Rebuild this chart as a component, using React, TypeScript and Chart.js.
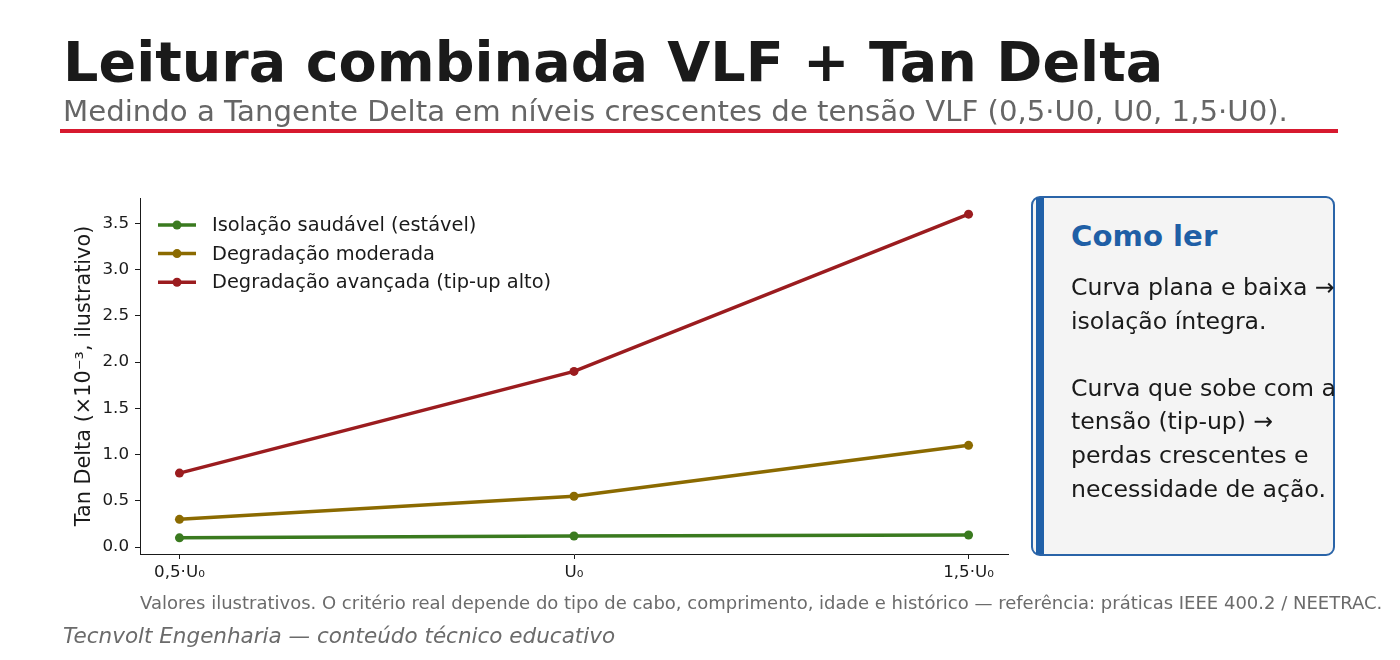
import React, { useEffect, useRef } from "react";
import { Chart, registerables } from "chart.js";

Chart.register(...registerables);

const categories = ["0,5·U₀", "U₀", "1,5·U₀"];
const seriesNames = [
  "Isolação saudável (estável)",
  "Degradação moderada",
  "Degradação avançada (tip-up alto)",
];
const healthy = [0.1, 0.12, 0.13];
const moderate = [0.3, 0.55, 1.1];
const advanced = [0.8, 1.9, 3.6];
const yTicks = [0, 0.5, 1, 1.5, 2, 2.5, 3, 3.5];
const colors = ["#3a7a1f", "#8b6a00", "#9b1c1f"];

const FONT = "'DejaVu Sans', sans-serif";

const overlayPlugin = {
  id: "overlay",
  afterDatasetsDraw(chart: any) {
    const ctx = chart.ctx;
    const area = chart.chartArea;
    ctx.save();
    ctx.fillStyle = "#1a1a1a";
    ctx.font = `20.8px ${FONT}`;
    ctx.textAlign = "center";
    ctx.textBaseline = "middle";
    ctx.translate(85, (area.top + area.bottom) / 2);
    ctx.rotate(-Math.PI / 2);
    ctx.fillText("Tan Delta (×10⁻³, ilustrativo)", 0, 0);
    ctx.restore();

    ctx.save();
    chart.data.datasets.forEach((ds: any, i: number) => {
      const y = 225 + i * 28.6;
      ctx.strokeStyle = ds.borderColor;
      ctx.lineWidth = 3.5;
      ctx.beginPath();
      ctx.moveTo(158, y);
      ctx.lineTo(196, y);
      ctx.stroke();
      ctx.fillStyle = ds.borderColor;
      ctx.beginPath();
      ctx.arc(177, y, 4.5, 0, Math.PI * 2);
      ctx.fill();
      ctx.fillStyle = "#1a1a1a";
      ctx.font = `19.4px ${FONT}`;
      ctx.textAlign = "left";
      ctx.textBaseline = "middle";
      ctx.fillText(ds.label, 212, y + 1);
    });
    ctx.restore();
  },
};

export default function App() {
  const ref = useRef<HTMLCanvasElement | null>(null);

  useEffect(() => {
    if (!ref.current) return;
    const mk = (vals: number[]) => vals.map((v, i) => ({ x: i, y: v }));
    const chart = new Chart(ref.current, {
      type: "line",
      data: {
        datasets: [healthy, moderate, advanced].map((vals, i) => ({
          label: seriesNames[i],
          data: mk(vals),
          borderColor: colors[i],
          backgroundColor: colors[i],
          borderWidth: 3.5,
          pointRadius: 4.5,
          pointBorderWidth: 0,
          pointBackgroundColor: colors[i],
          tension: 0,
        })),
      },
      options: {
        animation: false,
        responsive: false,
        maintainAspectRatio: false,
        layout: { padding: { left: 0, top: 198, right: 1400 - 1008, bottom: 0 } },
        plugins: { legend: { display: false }, tooltip: { enabled: false } },
        scales: {
          x: {
            type: "linear",
            min: -0.1,
            max: 2.1,
            afterBuildTicks: (s: any) => {
              s.ticks = categories.map((_, i) => ({ value: i }));
            },
            afterFit: (s: any) => {
              s.height = 660 - 554;
            },
            ticks: {
              callback: (v: any) => categories[v as number] ?? "",
              color: "#1a1a1a",
              font: { family: FONT, size: 16.7 },
              padding: 4,
              maxRotation: 0,
              autoSkip: false,
            },
            grid: { drawOnChartArea: false, drawTicks: true, tickLength: 5, tickColor: "#1a1a1a", tickWidth: 1 },
            border: { display: true, color: "#1a1a1a", width: 1 },
          },
          y: {
            type: "linear",
            min: -0.075,
            max: 3.775,
            afterBuildTicks: (s: any) => {
              s.ticks = yTicks.map((v) => ({ value: v }));
            },
            afterFit: (s: any) => {
              s.width = 140;
            },
            ticks: {
              callback: (v: any) => Number(v).toFixed(1),
              color: "#1a1a1a",
              font: { family: FONT, size: 16.7 },
              padding: 6,
              autoSkip: false,
            },
            grid: { drawOnChartArea: false, drawTicks: true, tickLength: 5, tickColor: "#1a1a1a", tickWidth: 1 },
            border: { display: true, color: "#1a1a1a", width: 1 },
          },
        },
      },
      plugins: [overlayPlugin],
    });
    return () => chart.destroy();
  }, []);

  const abs = (s: React.CSSProperties): React.CSSProperties => ({ position: "absolute", margin: 0, whiteSpace: "nowrap", fontFamily: FONT, ...s });

  return (
    <div style={{ position: "absolute", left: 0, top: 0, width: 1400, height: 660, background: "#ffffff", overflow: "hidden" }}>
      <canvas ref={ref} width={1400} height={660} style={{ position: "absolute", left: 0, top: 0, width: 1400, height: 660 }} />
      <div style={abs({ left: 63, top: 34, fontSize: 55.6, lineHeight: "55.6px", fontWeight: "bold", color: "#1a1a1a" })}>
        Leitura combinada VLF + Tan Delta
      </div>
      <div style={abs({ left: 63, top: 97, fontSize: 29.2, lineHeight: "29.2px", color: "#666666" })}>
        Medindo a Tangente Delta em níveis crescentes de tensão VLF (0,5·U0, U0, 1,5·U0).
      </div>
      <div style={abs({ left: 60, top: 129, width: 1278, height: 4, background: "#d7192f" })} />

      <div style={abs({ left: 1031, top: 196, width: 304, height: 360, boxSizing: "border-box", border: "2px solid #2a64a8", borderRadius: 9, background: "#f4f4f4" })} />
      <div style={abs({ left: 1036, top: 198, width: 8, height: 356, background: "#2060a8" })} />
      <div style={abs({ left: 1071, top: 222, fontSize: 29.2, lineHeight: "29px", fontWeight: "bold", color: "#1f5fa6" })}>Como ler</div>
      <div style={abs({ left: 1071, top: 271, fontSize: 23.6, lineHeight: "33.6px", color: "#1a1a1a" })}>
        Curva plana e baixa →<br />
        isolação íntegra.<br />
        <br />
        Curva que sobe com a<br />
        tensão (tip-up) →<br />
        perdas crescentes e<br />
        necessidade de ação.
      </div>

      <div style={abs({ left: 140, top: 594, fontSize: 18, lineHeight: "18px", color: "#6b6b6b" })}>
        Valores ilustrativos. O critério real depende do tipo de cabo, comprimento, idade e histórico — referência: práticas IEEE 400.2 / NEETRAC.
      </div>
      <div style={abs({ left: 63, top: 625, fontSize: 21.5, lineHeight: "21.5px", fontStyle: "italic", color: "#6b6b6b" })}>
        Tecnvolt Engenharia — conteúdo técnico educativo
      </div>
    </div>
  );
}
